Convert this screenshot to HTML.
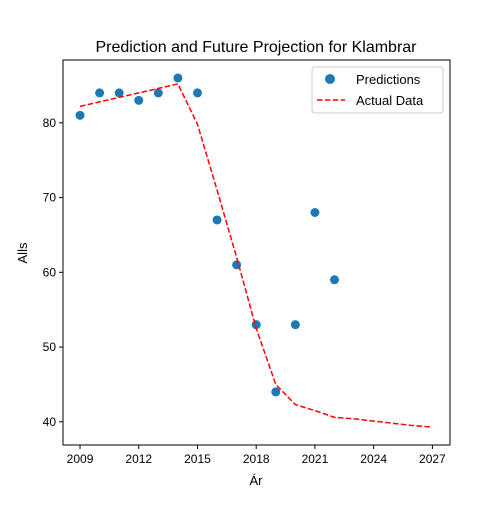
<!DOCTYPE html>
<html><head><meta charset="utf-8"><style>
body{margin:0;background:#fff;}
svg{font-family:"Liberation Sans","DejaVu Sans",sans-serif;}
</style></head><body>
<svg id="chart" width="500" height="500">
<rect x="0" y="0" width="500" height="500" fill="#fff"/>
<text x="256" y="52" text-anchor="middle" font-size="16">Prediction and Future Projection for Klambrar</text>
<g id="plot"></g>
<rect x="63" y="60" width="387" height="385" fill="none" stroke="#000" stroke-width="1"/>
<text x="256" y="485" text-anchor="middle" font-size="13">Ár</text>
<text x="27" y="253" text-anchor="middle" font-size="13" transform="rotate(-90 27 253)">Alls</text>
<g>
<rect x="312" y="67" width="131" height="46" fill="#fff" stroke="#ccc" rx="3"/>
<circle cx="330" cy="79" r="5" fill="#1f77b4"/>
<text x="356" y="84" font-size="13">Predictions</text>
<line x1="317" y1="100" x2="345" y2="100" stroke="red" stroke-width="1.5" stroke-dasharray="5.5,2.4"/>
<text x="356" y="105" font-size="13">Actual Data</text>
</g>
</svg>
<script>
const predYears=[2009,2010,2011,2012,2013,2014,2015,2016,2017,2018,2019,2020,2021,2022];
const predValues=[81,84,84,83,84,86,84,67,61,53,44,53,68,59];
const actualYears=[2009,2010,2011,2012,2013,2014,2015,2016,2017,2018,2019,2020,2021,2022,2023,2024,2025,2026,2027];
const actualValues=[82.2,82.8,83.4,84.0,84.6,85.2,79.8,71,62,52.5,45,42.3,41.5,40.6,40.4,40.1,39.8,39.5,39.3];
const xTicks=[2009,2012,2015,2018,2021,2024,2027];
const yTicks=[40,50,60,70,80];
const X0=63,X1=450,Y0=60,Y1=445,xmin=2008.13,xmax=2027.9,ymin=36.9,ymax=88.4;
const sx=v=>X0+(v-xmin)/(xmax-xmin)*(X1-X0);
const sy=v=>Y1-(v-ymin)/(ymax-ymin)*(Y1-Y0);
const NS="http://www.w3.org/2000/svg";
const g=document.getElementById('plot');
function mk(t,a){const e=document.createElementNS(NS,t);for(const k in a)e.setAttribute(k,a[k]);g.appendChild(e);return e;}
xTicks.forEach(t=>{
 const l=mk('line',{x1:sx(t),x2:sx(t),y1:Y1,y2:Y1+4,stroke:'#000'});
 
 
 const tx=mk('text',{x:sx(t),y:Y1+18,'text-anchor':'middle','font-size':12});
 tx.textContent=t;
 
 
});
yTicks.forEach(t=>{
 const l=mk('line',{x1:X0-4,x2:X0,y1:sy(t),y2:sy(t),stroke:'#000'});
 
 
 const tx=mk('text',{x:X0-7,y:sy(t)+4,'text-anchor':'end','font-size':12});
 tx.textContent=t;
 
 
});
predYears.forEach((y,i)=>{
 const c=mk('circle',{cx:sx(y),cy:sy(predValues[i]),r:4.5,fill:'#1f77b4'});
 
 
});
const p=mk('polyline',{points:actualYears.map((y,i)=>sx(y)+','+sy(actualValues[i])).join(' '),fill:'none',stroke:'red','stroke-width':1.5,'stroke-dasharray':'5.5,2.4'});


</script>
</body></html>
